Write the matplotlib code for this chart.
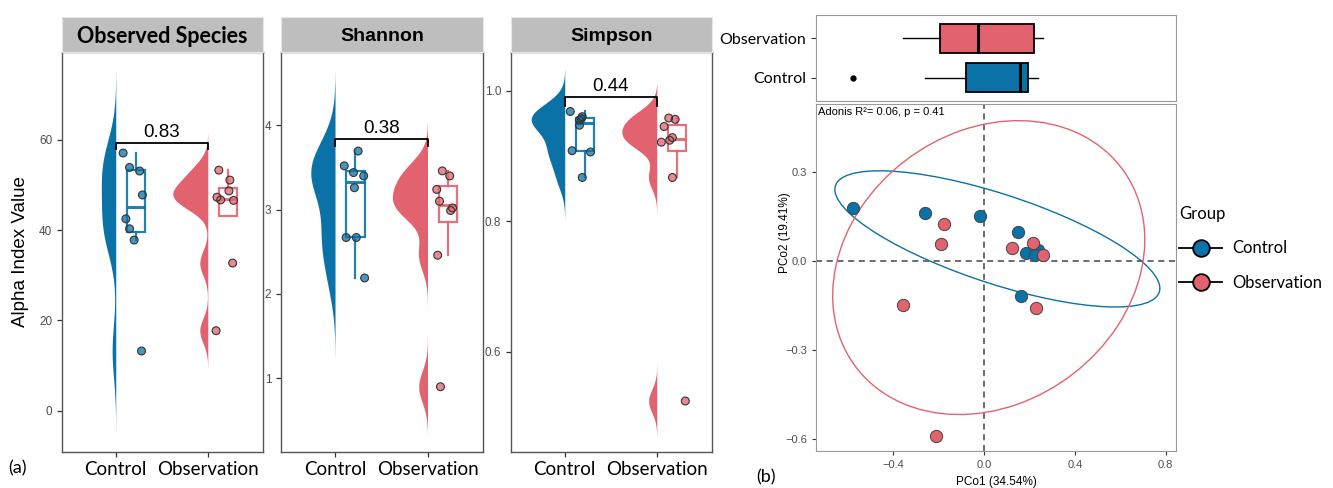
import numpy as np
import matplotlib
matplotlib.use("Agg")
import matplotlib.pyplot as plt
from matplotlib.patches import Ellipse
from matplotlib.lines import Line2D

# =====================================================
# DATA
# =====================================================

groups = ["Control", "Observation"]
blue = "#0B72A8"
pink = "#E2636F"
colors = [blue, pink]

panel_titles = ["Observed Species", "Shannon", "Simpson"]
p_labels = ["0.83", "0.38", "0.44"]

obs_ctrl = [57.1, 53.9, 53.1, 47.8, 42.5, 40.3, 37.8, 13.2]
obs_obs = [53.3, 51.1, 48.7, 47.3, 46.7, 46.6, 32.7, 17.7]
shan_ctrl = [3.695, 3.52, 3.44, 3.40, 3.26, 2.67, 2.67, 2.19]
shan_obs = [3.46, 3.40, 3.24, 3.10, 2.99, 3.02, 2.46, 0.90]
simp_ctrl = [0.968, 0.960, 0.957, 0.955, 0.947, 0.908, 0.906, 0.867]
simp_obs = [0.958, 0.956, 0.945, 0.928, 0.921, 0.924, 0.867, 0.525]

# jitter offsets (x position inside category)
jit_obs_ctrl = [0.08, 0.15, 0.26, 0.29, 0.11, 0.15, 0.20, 0.28]
jit_obs_obs = [0.12, 0.24, 0.23, 0.10, 0.14, 0.28, 0.27, 0.09]
jit_shan_ctrl = [0.25, 0.10, 0.20, 0.31, 0.21, 0.12, 0.23, 0.32]
jit_shan_obs = [0.16, 0.24, 0.10, 0.13, 0.25, 0.27, 0.11, 0.14]
jit_simp_ctrl = [0.06, 0.19, 0.18, 0.16, 0.16, 0.08, 0.28, 0.19]
jit_simp_obs = [0.13, 0.20, 0.08, 0.17, 0.05, 0.14, 0.17, 0.31]

panel_data = [(obs_ctrl, obs_obs), (shan_ctrl, shan_obs), (simp_ctrl, simp_obs)]
panel_jit = [(jit_obs_ctrl, jit_obs_obs), (jit_shan_ctrl, jit_shan_obs),
             (jit_simp_ctrl, jit_simp_obs)]
panel_yticks = [[0, 20, 40, 60], [1, 2, 3, 4], [0.6, 0.8, 1.0]]
panel_yticklabels = [["0", "20", "40", "60"], ["1", "2", "3", "4"],
                     ["0.6", "0.8", "1.0"]]
panel_ylim = [(-9.2, 79.5), (0.126, 4.87), (0.447, 1.059)]

# PCoA coordinates
pc1_ctrl = [-0.580, -0.261, -0.019, 0.151, 0.184, 0.237, 0.223, 0.163]
pc2_ctrl = [0.180, 0.162, 0.151, 0.099, 0.026, 0.038, 0.022, -0.117]
pc1_obs = [-0.178, -0.191, 0.122, 0.216, 0.260, -0.358, 0.228, -0.214]
pc2_obs = [0.125, 0.059, 0.044, 0.060, 0.021, -0.149, -0.157, -0.590]

# confidence ellipses: centre, semi axes, angle (deg)
ell_ctrl = [0.058, 0.075, 0.736, 0.154, -13.75]
ell_obs = [0.020, -0.022, 0.700, 0.479, 14.95]

pc_xticks = [-0.4, 0.0, 0.4, 0.8]
pc_xlabels = ["\u22120.4", "0.0", "0.4", "0.8"]
pc_yticks = [-0.6, -0.3, 0.0, 0.3]
pc_ylabels = ["\u22120.6", "\u22120.3", "0.0", "0.3"]

# =====================================================
# HELPERS
# =====================================================

W, H = 1333, 488


def rect(l, t, r, b):
    return [l / W, 1 - b / H, (r - l) / W, (b - t) / H]


def kde(v):
    v = np.asarray(v, float)
    n = len(v)
    q1, q3 = np.percentile(v, [25, 75])
    bw = 0.9 * min(v.std(ddof=1), (q3 - q1) / 1.34) * n ** -0.2
    grid = np.linspace(v.min() - 3 * bw, v.max() + 3 * bw, 512)
    d = np.exp(-0.5 * ((grid[:, None] - v[None, :]) / bw) ** 2).sum(1)
    d = d / (n * bw * np.sqrt(2 * np.pi))
    return grid, d


ARIAL = "Liberation Sans"
CALIB = "Lato"

fig = plt.figure(figsize=(W / 100, H / 100), dpi=100)

# =====================================================
# (a) ALPHA DIVERSITY
# =====================================================

panel_x = [(62, 263), (281, 483), (511, 712)]

for i in range(3):

    l, r = panel_x[i]
    ax = fig.add_axes(rect(l, 52, r, 452))
    ctrl, obsv = panel_data[i]

    dens = [kde(ctrl), kde(obsv)]
    dmax = max(d.max() for _, d in dens)

    for k in range(2):
        grid, d = dens[k]
        w = d / dmax * 0.38
        ax.fill_betweenx(grid, k + 1 - w, k + 1, color=colors[k],
                         lw=0, zorder=1)

    bp = ax.boxplot([ctrl, obsv], positions=[1.22, 2.22], widths=0.2,
                    showfliers=False, showcaps=False, patch_artist=True,
                    manage_ticks=False)
    for k in range(2):
        c = colors[k]
        bp["boxes"][k].set(facecolor="none", edgecolor=c, lw=1.6,
                           alpha=0.9, zorder=2)
        bp["medians"][k].set(color=c, lw=2.2, alpha=0.9, zorder=2)
        for wl in bp["whiskers"][2 * k:2 * k + 2]:
            wl.set(color=c, lw=1.6, alpha=0.9, zorder=2)

    jits = panel_jit[i]
    for k, vals in enumerate([ctrl, obsv]):
        xs = np.array(jits[k]) + k + 1
        ax.scatter(xs, vals, s=32, facecolor=colors[k], alpha=0.75,
                   edgecolor="none", zorder=3)
        ax.scatter(xs, vals, s=32, facecolor="none", edgecolor="#333333",
                   lw=0.8, zorder=4)

    # significance bracket
    allv = np.concatenate([ctrl, obsv])
    rng = allv.max() - allv.min()
    ytop = allv.max() + 0.05 * rng
    tip = 0.03 * rng
    ax.plot([1, 1, 2, 2], [ytop - tip, ytop, ytop, ytop - tip],
            color="black", lw=1.3, zorder=5)
    ax.annotate(p_labels[i], (1.5, ytop), xytext=(0, 1.5),
                textcoords="offset points", ha="center", va="bottom",
                fontsize=13.5, family=ARIAL)

    ax.set_xlim(0.416, 2.60)
    ax.set_ylim(*panel_ylim[i])
    ax.set_xticks([1, 2])
    ax.set_xticklabels(groups, fontsize=13.5, family=CALIB)
    ax.set_yticks(panel_yticks[i])
    ax.set_yticklabels(panel_yticklabels[i], fontsize=8.5, family=ARIAL,
                       color="#4D4D4D")
    ax.tick_params(length=3.5, color="#333333", width=0.9)
    ax.tick_params(axis="x", pad=3)
    for s in ax.spines.values():
        s.set_color("#555555")
        s.set_linewidth(1.0)
    if i == 0:
        ax.set_ylabel("Alpha Index Value", fontsize=13.5, family=ARIAL,
                      labelpad=7)

    # facet strip
    st = fig.add_axes(rect(l, 17, r, 52))
    st.set_facecolor("#BEBEBE")
    st.set_xticks([])
    st.set_yticks([])
    for s in st.spines.values():
        s.set_color("#E6E6E6")
    st.text(0.5, 0.45, panel_titles[i], ha="center", va="center",
            fontsize=15.5 if i == 0 else 14, fontweight="bold",
            family=CALIB if i == 0 else ARIAL, transform=st.transAxes)

fig.text(8 / W, 1 - 468 / H, "(a)", fontsize=13, family=CALIB,
         va="center")
fig.text(756 / W, 1 - 477 / H, "(b)", fontsize=13, family=CALIB,
         va="center")

# =====================================================
# (b) PCoA
# =====================================================

pcx = [pc1_ctrl, pc1_obs]
pcy = [pc2_ctrl, pc2_obs]
xlim = (-0.741, 0.845)

# marginal boxplot
axb = fig.add_axes(rect(816, 15, 1176, 101))
bp = axb.boxplot(pcx, positions=[1, 2], widths=0.75, orientation="horizontal",
                 showcaps=True, patch_artist=True, manage_ticks=False,
                 flierprops=dict(marker="o", markerfacecolor="black",
                                 markeredgecolor="black", markersize=3.5))
for k in range(2):
    bp["boxes"][k].set(facecolor=colors[k], edgecolor="black", lw=1.3)
    bp["medians"][k].set(color="black", lw=2.2)
for ln in bp["whiskers"]:
    ln.set(color="black", lw=1.0)
for ln in bp["caps"]:
    ln.set(lw=0)
axb.set_xlim(*xlim)
axb.set_ylim(0.4, 2.6)
axb.set_xticks([])
axb.set_yticks([1, 2])
axb.set_yticklabels(groups, fontsize=11.5, family=CALIB)
axb.tick_params(axis="y", length=3.5, color="#333333")
for s in axb.spines.values():
    s.set_color("#999999")

# ordination
axp = fig.add_axes(rect(816, 104, 1176, 451))
axp.axvline(0, color="#444444", ls=(0, (4, 3)), lw=1.1, zorder=1)
axp.axhline(0, color="#444444", ls=(0, (4, 3)), lw=1.1, zorder=1)
for k, e in enumerate([ell_ctrl, ell_obs]):
    axp.add_patch(Ellipse((e[0], e[1]), 2 * e[2], 2 * e[3], angle=e[4],
                          fill=False, edgecolor=colors[k], lw=1.0, zorder=2))
for k in range(2):
    axp.scatter(pcx[k], pcy[k], s=78, facecolor=colors[k],
                edgecolor="#444444", lw=0.7, zorder=3)
axp.set_xlim(*xlim)
axp.set_ylim(-0.642, 0.531)
axp.set_xticks(pc_xticks)
axp.set_xticklabels(pc_xlabels, fontsize=8, family=ARIAL, color="#4D4D4D")
axp.set_yticks(pc_yticks)
axp.set_yticklabels(pc_ylabels, fontsize=8, family=ARIAL, color="#4D4D4D")
axp.tick_params(length=3, color="#333333", width=0.8)
for s in axp.spines.values():
    s.set_color("#999999")
axp.set_xlabel("PCo1 (34.54%)", fontsize=8.5, family=ARIAL)
axp.xaxis.set_label_coords(0.5, -0.072)
axp.set_ylabel("PCo2 (19.41%)", fontsize=8.5, family=ARIAL)
axp.yaxis.set_label_coords(-0.069, 0.628)
axp.text(0.005, 0.99, "Adonis R\u00b2= 0.06, p = 0.41", transform=axp.transAxes,
         ha="left", va="top", fontsize=8, family=ARIAL)

# legend
handles = [Line2D([0], [0], color="black", lw=1.3, marker="o",
                  markersize=12, markerfacecolor=c, markeredgecolor="black",
                  markeredgewidth=1.3) for c in colors]
fig.legend(handles, groups, title="Group", loc="upper left",
           bbox_to_anchor=(1179 / W, 1 - 206 / H), frameon=False,
           borderpad=0, borderaxespad=0,
           prop=dict(family=CALIB, size=12),
           title_fontproperties=dict(family=CALIB, size=12),
           alignment="left", handlelength=2.6, handletextpad=0.6,
           labelspacing=1.1)

fig.savefig("out.png", dpi=100)
